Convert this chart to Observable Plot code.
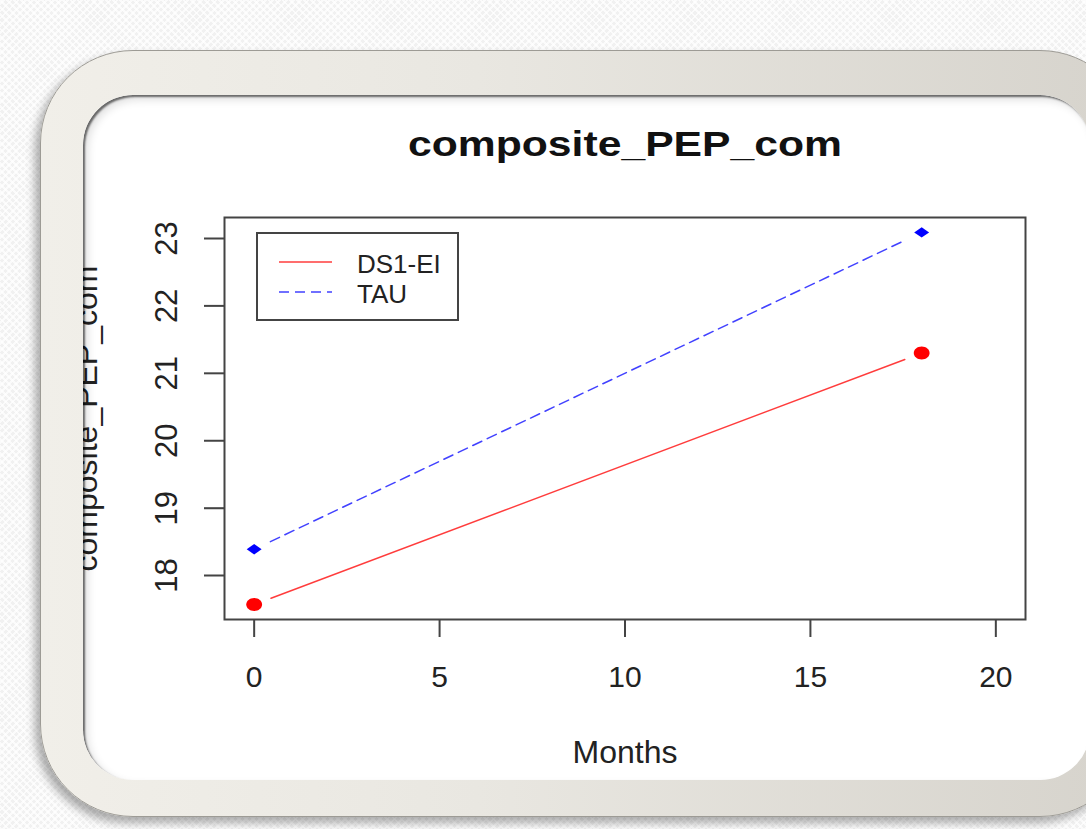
<!DOCTYPE html>
<html>
<head>
<meta charset="utf-8">
<script src="https://cdn.jsdelivr.net/npm/d3@7"></script>
<script src="https://cdn.jsdelivr.net/npm/@observablehq/plot@0.6"></script>
<style>
html, body { margin: 0; padding: 0; width: 1086px; height: 829px; overflow: hidden; }
body {
  font-family: "Liberation Sans", Arial, sans-serif;
  background-color: #f1f1f1;
  background-image:
    repeating-linear-gradient(45deg, rgba(255,255,255,0.75) 0 2px, rgba(255,255,255,0) 2px 5px),
    repeating-linear-gradient(-45deg, rgba(255,255,255,0.75) 0 2px, rgba(255,255,255,0) 2px 5px);
}
#outer {
  position: absolute; left: 40px; top: 50px; width: 1093px; height: 767px;
  box-sizing: border-box; border: 1px solid #9d9b95; border-radius: 93px;
  background: linear-gradient(to right, #f1efe9 0%, #e9e7e1 40%, #d6d3cc 100%);
  box-shadow: -5px 6px 10px rgba(0,0,0,0.32);
}
#inner {
  position: absolute; left: 42px; top: 44px; width: 1007px; height: 685px;
  border-radius: 50px; background: #fff; overflow: hidden;
}
#inner::after {
  content: ""; position: absolute; left: 0; top: 0; right: 0; bottom: 0; border-radius: 50px;
  box-shadow: inset 2px 2px 2px rgba(0,0,0,0.55), inset 5px 5px 8px rgba(0,0,0,0.12);
  pointer-events: none;
}
#stage { position: absolute; left: -83px; top: -95px; width: 1086px; height: 829px; }
#stage > svg { position: absolute; left: 0; top: 0; }
#legend {
  position: absolute; left: 256px; top: 232px; width: 203px; height: 89px;
  box-sizing: border-box; border: 2px solid #444; background: #fff;
}
#legend svg { position: absolute; left: -2px; top: -2px; }
</style>
</head>
<body>
<div id="outer"><div id="inner"><div id="stage"></div></div></div>
<script>
// ---- data ----
const months = [0, 18];
const ds1Values = [17.57, 21.30];
const tauValues = [18.39, 23.09];
const seriesNames = ["DS1-EI", "TAU"];
const seriesColors = ["#ff1a1a", "#2020ff"];
const seriesDash = [null, "10,6"];
const xTicks = [0, 5, 10, 15, 20];
const yTicks = [18, 19, 20, 21, 22, 23];
const xLim = [0, 20];
const titleText = "composite_PEP_com";
const xLabel = "Months";
const yLabel = "composite_PEP_com";

// ---- symbols (R pch 19 / pch 18, slightly widened as in the picture) ----
const ellipseSym = {
  draw(ctx, size) {
    const r = Math.sqrt(size / Math.PI), rx = r * 1.22, ry = r, k = 0.5523;
    ctx.moveTo(rx, 0);
    ctx.bezierCurveTo(rx, k * ry, k * rx, ry, 0, ry);
    ctx.bezierCurveTo(-k * rx, ry, -rx, k * ry, -rx, 0);
    ctx.bezierCurveTo(-rx, -k * ry, -k * rx, -ry, 0, -ry);
    ctx.bezierCurveTo(k * rx, -ry, rx, -k * ry, rx, 0);
    ctx.closePath();
  }
};
const diamondSym = {
  draw(ctx, size) {
    const r = Math.sqrt(size / Math.PI), hw = r * 1.15, hh = r * 0.8;
    ctx.moveTo(-hw, 0); ctx.lineTo(0, -hh); ctx.lineTo(hw, 0); ctx.lineTo(0, hh); ctx.closePath();
  }
};

const seriesValues = [ds1Values, tauValues];
const pointColors = ["red", "blue"];
const series = seriesNames.map((name, i) => ({
  name, values: seriesValues[i], color: seriesColors[i], pointColor: pointColors[i], dash: seriesDash[i],
  symbol: i === 0 ? ellipseSym : diamondSym
}));

const ext = (a, b) => { const r = b - a; return [a - 0.04 * r, b + 0.04 * r]; };
const allY = [...ds1Values, ...tauValues];
const yDomain = ext(d3.min(allY), d3.max(allY));
const xDomain = ext(xLim[0], xLim[1]);

const marks = [Plot.frame({stroke: "#444", strokeWidth: 2})];
for (const s of series) {
  const seg = [{x1: months[0], y1: s.values[0], x2: months[1], y2: s.values[1]}];
  marks.push(Plot.arrow(seg, {
    x1: "x1", y1: "y1", x2: "x2", y2: "y2", stroke: s.color, strokeWidth: 1.5, strokeOpacity: 0.85,
    strokeDasharray: s.dash, headLength: 0, insetStart: 18, insetEnd: 18
  }));
  const pts = months.map((m, i) => ({x: m, y: s.values[i]}));
  marks.push(Plot.dot(pts, {x: "x", y: "y", fill: s.pointColor, stroke: "none", r: 6.5, symbol: s.symbol}));
}
marks.push(
  Plot.axisX({ticks: xTicks, tickSize: 18, stroke: "#444", strokeWidth: 2, tickFormat: () => "", label: null}),
  Plot.axisY({ticks: yTicks, tickSize: 20, stroke: "#444", strokeWidth: 2, tickFormat: () => "", label: null}),
  Plot.text(xTicks, {x: d => d, text: d => String(d), frameAnchor: "bottom", dy: 67, lineAnchor: "bottom",
    fontSize: 30, fill: "#222"}),
  Plot.text(yTicks, {y: d => d, text: d => String(d), frameAnchor: "left", dx: -48, rotate: -90,
    lineAnchor: "bottom", textAnchor: "middle", fontSize: 31, fill: "#222"}),
  Plot.text([xLabel], {text: d => d, frameAnchor: "bottom", dy: 143, lineAnchor: "bottom",
    fontSize: 32, fill: "#222"}),
  Plot.text([yLabel], {text: d => d, frameAnchor: "left", dx: -128, rotate: -90,
    lineAnchor: "bottom", textAnchor: "middle", fontSize: 32, fill: "#222"}),
  Plot.text([titleText], {text: d => d, frameAnchor: "top", dy: -62, lineAnchor: "bottom",
    fontSize: 35, fontWeight: "bold", fill: "#111"})
);

const chart = Plot.plot({
  width: 1086, height: 829,
  marginLeft: 224, marginRight: 61, marginTop: 217, marginBottom: 210,
  style: {fontFamily: "'Liberation Sans', Arial, sans-serif", background: "transparent", overflow: "visible"},
  x: {domain: xDomain, axis: null},
  y: {domain: yDomain, axis: null},
  marks
});
document.getElementById("stage").appendChild(chart);

// stretch the bold title horizontally as it appears in the reference
d3.select(chart).selectAll("text").filter(function () {
  return this.textContent === titleText &&
    (this.getAttribute("font-weight") === "bold" || d3.select(this.parentNode).attr("font-weight") === "bold");
}).each(function () {
  this.setAttribute("textLength", 434);
  this.setAttribute("lengthAdjust", "spacingAndGlyphs");
});

// ---- legend ----
const legend = document.createElement("div");
legend.id = "legend";
document.getElementById("stage").appendChild(legend);
const lsvg = d3.select(legend).append("svg").attr("width", 203).attr("height", 89);
series.forEach((s, i) => {
  const yLine = 30 + i * 30;
  lsvg.append("line").attr("x1", 23).attr("x2", 76).attr("y1", yLine).attr("y2", yLine)
    .attr("stroke", s.color).attr("stroke-width", 1.5).attr("stroke-opacity", 0.85)
    .attr("stroke-dasharray", s.dash);
  lsvg.append("text").attr("x", 101).attr("y", yLine + 11)
    .attr("font-family", "'Liberation Sans', Arial, sans-serif").attr("font-size", 26)
    .attr("fill", "#222").text(s.name);
});
</script>
</body>
</html>
